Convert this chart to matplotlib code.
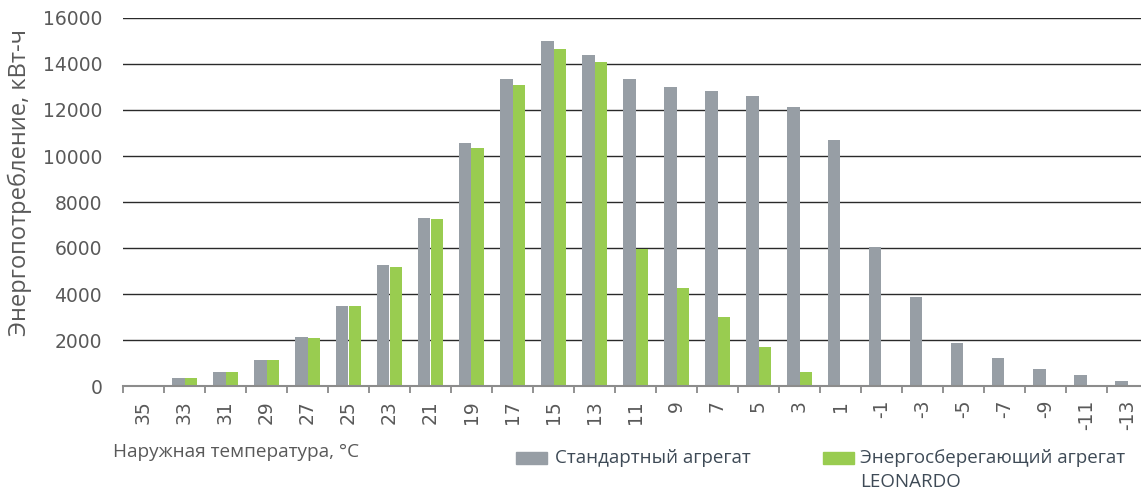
import numpy as np
import matplotlib
matplotlib.use('Agg')
import matplotlib.pyplot as plt
from matplotlib.patches import Rectangle

plt.rcParams['font.family'] = ['DejaVu Sans']

temps = ['35', '33', '31', '29', '27', '25', '23', '21', '19', '17', '15', '13',
         '11', '9', '7', '5', '3', '1', '-1', '-3', '-5', '-7', '-9', '-11', '-13']
standard = [0, 350, 600, 1130, 2150, 3500, 5270, 7320, 10570, 13350, 15000, 14380,
            13350, 13000, 12830, 12610, 12130, 10700, 6050, 3870, 1870, 1220, 740, 480, 220]
leonardo = [0, 350, 600, 1130, 2100, 3480, 5190, 7260, 10350, 13090, 14650, 14090,
            5950, 4260, 3000, 1700, 610, 0, 0, 0, 0, 0, 0, 0, 0]
yticks = [0, 2000, 4000, 6000, 8000, 10000, 12000, 14000, 16000]

gray = '#979ea5'
green = '#99cc50'
txt = '#595959'
legtxt = '#3e4a56'

fig = plt.figure(figsize=(11.41, 4.91), dpi=100)
ax = fig.add_axes([123 / 1141, 105 / 491, 1025 / 1141, 368 / 491])

x = np.arange(len(temps))
w = 0.31
ax.bar(x - w / 2, standard, w, color=gray, zorder=3)
ax.bar(x + w / 2, leonardo, w, color=green, zorder=3)

ax.set_xlim(-0.5, len(temps) - 0.5)
ax.set_ylim(0, 16000)
ax.set_yticks(yticks)
ax.set_yticklabels([str(v) for v in yticks])
for v in yticks[1:]:
    ax.axhline(v, color='#2a2a2a', lw=1.0, zorder=1)

for s in ['top', 'right', 'left']:
    ax.spines[s].set_visible(False)
ax.spines['bottom'].set_color('#8c8c8c')
ax.spines['bottom'].set_linewidth(1.5)
ax.spines['bottom'].set_zorder(4)

ax.set_xticks(np.arange(len(temps) + 1) - 0.5)
ax.set_xticklabels([])
ax.tick_params(axis='x', which='major', length=5, width=1.2, color='#7f7f7f', direction='out')
ax.set_xticks(x, minor=True)
ax.set_xticklabels(temps, minor=True, rotation=90)
ax.tick_params(axis='x', which='minor', length=0, pad=10, labelsize=13.5, labelcolor=txt)
ax.tick_params(axis='y', length=0, pad=15, labelsize=13.5, labelcolor=txt)

fig.text(20 / 1141, 1 - 182 / 491, 'Энергопотребление, кВт-ч', rotation=90,
         ha='center', va='center', fontsize=17, color=txt, family='Open Sans')
fig.text(113 / 1141, 1 - 452 / 491, 'Наружная температура, °C',
         ha='left', va='center', fontsize=13.7, color=txt, family='Open Sans')

fig.patches.append(Rectangle((516 / 1141, 1 - 464 / 491), 31 / 1141, 12 / 491,
                             transform=fig.transFigure, color=gray, figure=fig))
fig.text(555 / 1141, 1 - 458 / 491, 'Стандартный агрегат', ha='left', va='center',
         fontsize=13.5, color=legtxt, family='Open Sans')
fig.patches.append(Rectangle((823 / 1141, 1 - 464 / 491), 31 / 1141, 12 / 491,
                             transform=fig.transFigure, color=green, figure=fig))
fig.text(860 / 1141, 1 - 458 / 491, 'Энергосберегающий агрегат', ha='left', va='center',
         fontsize=13.5, color=legtxt, family='Open Sans')
fig.text(860 / 1141, 1 - 482 / 491, 'LEONARDO', ha='left', va='center',
         fontsize=13.5, color=legtxt, family='Open Sans')

fig.savefig('out.png', dpi=100, facecolor='white')
